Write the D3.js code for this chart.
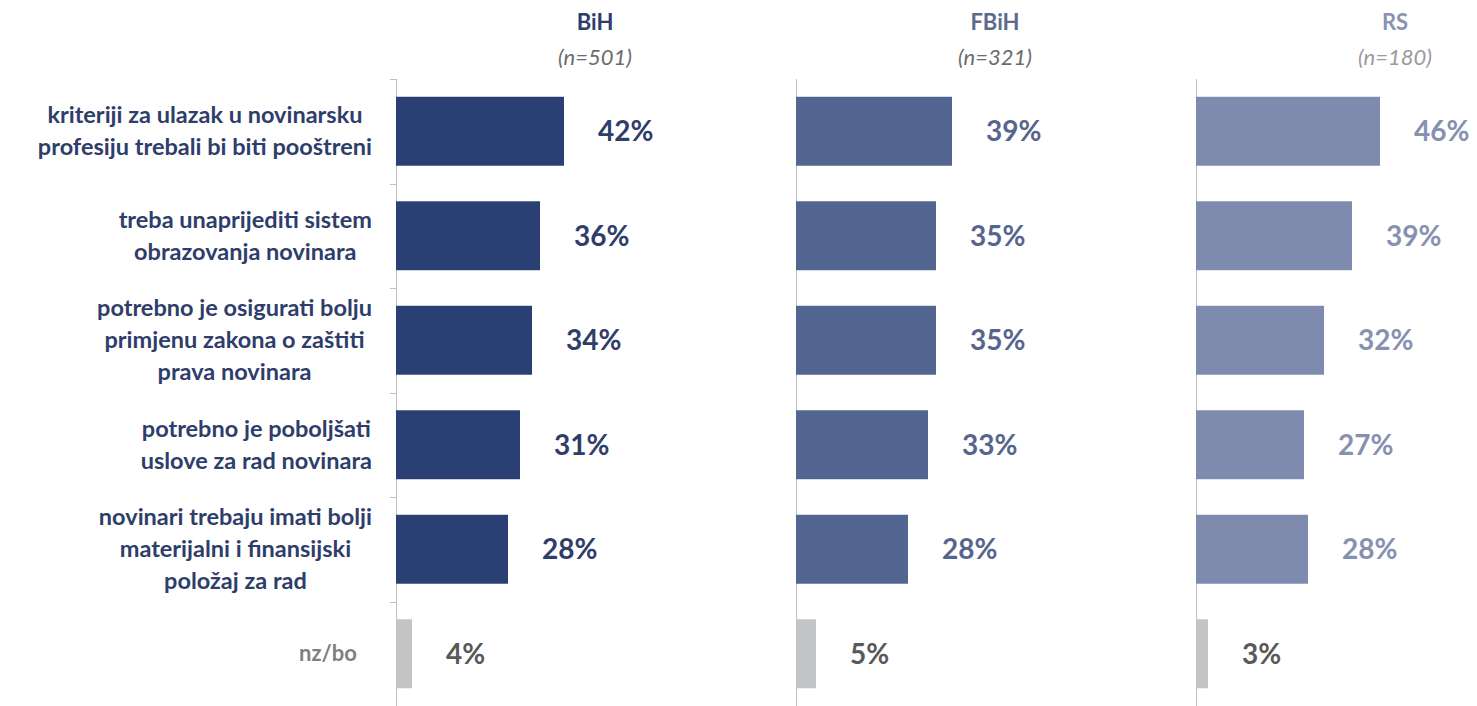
<!DOCTYPE html>
<html>
<head>
<meta charset="utf-8">
<script src="https://cdn.jsdelivr.net/npm/d3@7"></script>
<style>
  body { margin: 0; background: #fff; }
  text { font-family: Lato, "Open Sans", sans-serif; }
</style>
</head>
<body>
<div id="chart"></div>
<script>
// data
var categories = [
  "kriteriji za ulazak u novinarsku|profesiju trebali bi biti pooštreni",
  "treba unaprijediti sistem|obrazovanja novinara",
  "potrebno je osigurati bolju|primjenu zakona o zaštiti|prava novinara",
  "potrebno je poboljšati|uslove za rad novinara",
  "novinari trebaju imati bolji|materijalni i finansijski|položaj za rad",
  "nz/bo"
];
var groups = ["BiH", "FBiH", "RS"];
var sampleSizes = ["(n=501)", "(n=321)", "(n=180)"];
var valuesBiH = [42, 36, 34, 31, 28, 4];
var valuesFBiH = [39, 35, 35, 33, 28, 5];
var valuesRS = [46, 39, 32, 27, 28, 3];

var allValues = [valuesBiH, valuesFBiH, valuesRS];
var barColors = ["#2a3f73", "#536691", "#7e8bae"];
var labelColors = ["#2e3d6a", "#56658d", "#8690b0"];
var headColors = ["#2e3d6a", "#5d6a8e", "#8a93b0"];

var svgWidth = 1477;
var svgHeight = 706;

var svg = d3.select("#chart")
  .append("svg")
  .attr("width", svgWidth)
  .attr("height", svgHeight);

// panel positions
var panelX = d3.scalePoint()
  .domain(groups)
  .range([396, 1196]);

var y = d3.scaleBand()
  .domain(categories)
  .range([79, 706])
  .paddingInner(0.34)
  .paddingOuter(0.17);

var yTicks = d3.scaleBand()
  .domain(categories)
  .range([79, 706]);

var x = d3.scaleLinear()
  .domain([0, 100])
  .range([0, 400]);

// category labels
var catG = svg.append("g");
categories.forEach(function(c, i) {
  var lines = c.split("|");
  var isOther = i === categories.length - 1;
  var t = catG.append("text")
    .attr("font-weight", 700)
    .attr("font-size", isOther ? 22 : 23.5)
    .attr("fill", isOther ? "#7f7f7f" : "#2e3d6a")
    .attr("text-anchor", "middle");
  var cy = y(c) + y.bandwidth() / 2;
  var lh = 32;
  var top = cy - (lines.length - 1) * lh / 2;
  lines.forEach(function(l, j) {
    t.append("tspan")
      .attr("x", 0)
      .attr("y", top + j * lh)
      .attr("dy", "0.35em")
      .text(l);
  });
});
// right align the block, lines centred within it
catG.selectAll("text").each(function(d, i) {
  var w = this.getBBox().width;
  var right = i === categories.length - 1 ? 357 : 372;
  d3.select(this).selectAll("tspan").attr("x", right - w / 2);
});

groups.forEach(function(g, gi) {
  var px = panelX(g);
  var panel = svg.append("g")
    .attr("transform", `translate(${px},0)`);

  // header
  panel.append("text")
    .attr("x", 199)
    .attr("y", 30)
    .attr("text-anchor", "middle")
    .attr("font-weight", 700)
    .attr("font-size", 22)
    .attr("fill", headColors[gi])
    .text(g);
  panel.append("text")
    .attr("x", 199)
    .attr("y", 65)
    .attr("text-anchor", "middle")
    .attr("font-style", "italic")
    .attr("font-size", 22)
    .attr("fill", gi === 2 ? "#9a9a9a" : "#6b6b6b")
    .text(sampleSizes[gi]);

  // axis line
  panel.append("line")
    .attr("x1", 0.5).attr("x2", 0.5)
    .attr("y1", 79).attr("y2", 706)
    .attr("stroke", "#bfbfbf");
  if (gi === 0) {
    panel.selectAll(".tk")
      .data(categories)
      .enter()
      .append("line")
      .attr("x1", -6).attr("x2", 0)
      .attr("y1", d => Math.round(yTicks(d)) + 0.5)
      .attr("y2", d => Math.round(yTicks(d)) + 0.5)
      .attr("stroke", "#bfbfbf");
  }

  var vals = allValues[gi];
  panel.selectAll("rect")
    .data(vals)
    .enter()
    .append("rect")
    .attr("x", 0)
    .attr("y", (d, i) => y(categories[i]))
    .attr("width", d => x(d))
    .attr("height", y.bandwidth())
    .attr("fill", (d, i) => i === categories.length - 1 ? "#c3c4c6" : barColors[gi]);

  panel.selectAll(".val")
    .data(vals)
    .enter()
    .append("text")
    .attr("class", "val")
    .attr("x", d => x(d) + 34)
    .attr("y", (d, i) => y(categories[i]) + y.bandwidth() / 2)
    .attr("dy", "0.35em")
    .attr("font-weight", 700)
    .attr("font-size", 28)
    .attr("fill", (d, i) => i === categories.length - 1 ? "#595959" : labelColors[gi])
    .text(d => d + "%");
});
</script>
</body>
</html>
